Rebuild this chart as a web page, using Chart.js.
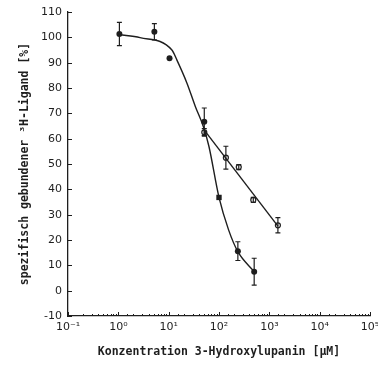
<!DOCTYPE html>
<html>
<head>
<meta charset="utf-8">
<script src="https://cdn.jsdelivr.net/npm/chart.js@4/dist/chart.umd.min.js"></script>
<style>
  html, body { margin: 0; padding: 0; background: #fff; }
  canvas { display: block; }
</style>
</head>
<body>
<canvas id="chart" width="378" height="367"></canvas>
<script>
// measured points, filled circles (concentration in µM, % bound, +/- error)
const filledConc = [1.05, 5.2, 10.4, 51, 237, 500];
const filledVal  = [101.3, 102.2, 91.7, 66.7, 15.6, 7.5];
const filledErr  = [4.6, 3.2, 0, 5.4, 3.7, 5.3];

// single filled square
const squareConc = [100];
const squareVal  = [36.8];

// open symbols
const openConc = [51, 137, 247, 480, 1480];
const openVal  = [62.5, 52.5, 48.8, 35.8, 25.8];
const openErr  = [1.5, 4.5, 1, 1, 3];

// fitted curves
const fitFilledConc = [1.05, 2.7, 11.6, 14.6, 23, 34, 49, 63, 100, 155, 237, 500];
const fitFilledVal  = [101, 99.9, 95, 91, 82, 72.6, 64.7, 57, 36.8, 24, 15.4, 7.5];
const fitOpenConc = [51, 1480];
const fitOpenVal  = [63.4, 25.5];

const yTicks = [-10, 0, 10, 20, 30, 40, 50, 60, 70, 80, 90, 100, 110];
const supers = { '-': '\u207B', '0': '\u2070', '1': '\u00B9', '2': '\u00B2', '3': '\u00B3', '4': '\u2074', '5': '\u2075' };

const ink = '#1e1e1e';

function pairs(xs, ys) {
    return xs.map((v, i) => ({ x: v, y: ys[i] }));
}

function isDecade(v) {
    const l = Math.log10(v);
    return Math.abs(l - Math.round(l)) < 1e-9;
}

// error bars with small caps, drawn through the chart scales
const errorBars = {
    id: 'errorBars',
    afterDatasetsDraw(chart) {
        const { ctx, scales: { x, y } } = chart;
        ctx.save();
        ctx.strokeStyle = ink;
        ctx.lineWidth = 1.2;
        [[filledConc, filledVal, filledErr], [openConc, openVal, openErr]].forEach(([xs, ys, es]) => {
            xs.forEach((c, i) => {
                if (!es[i]) return;
                const px = x.getPixelForValue(c);
                const top = y.getPixelForValue(ys[i] + es[i]);
                const bot = y.getPixelForValue(ys[i] - es[i]);
                ctx.beginPath();
                ctx.moveTo(px, top); ctx.lineTo(px, bot);
                ctx.moveTo(px - 2.5, top); ctx.lineTo(px + 2.5, top);
                ctx.moveTo(px - 2.5, bot); ctx.lineTo(px + 2.5, bot);
                ctx.stroke();
            });
        });
        ctx.restore();
    }
};

// inward tick marks on both axes, short ones for the log minor ticks
const axisTicks = {
    id: 'axisTicks',
    afterDraw(chart) {
        const { ctx, scales: { x, y } } = chart;
        ctx.save();
        ctx.strokeStyle = ink;
        ctx.lineWidth = 1;
        ctx.beginPath();
        x.ticks.forEach(t => {
            const px = Math.round(x.getPixelForValue(t.value)) + 0.5;
            const len = isDecade(t.value) ? 4 : 2;
            ctx.moveTo(px, y.bottom);
            ctx.lineTo(px, y.bottom - len);
        });
        y.ticks.forEach(t => {
            const py = Math.round(y.getPixelForValue(t.value)) + 0.5;
            ctx.moveTo(x.left - 1, py);
            ctx.lineTo(x.left + 4, py);
        });
        ctx.stroke();
        ctx.restore();
    }
};

const config = {
    type: 'scatter',
    data: {
        datasets: [
            {
                data: pairs(fitFilledConc, fitFilledVal),
                showLine: true,
                borderColor: ink,
                borderWidth: 1.4,
                pointRadius: 0,
                cubicInterpolationMode: 'monotone'
            },
            {
                data: pairs(fitOpenConc, fitOpenVal),
                showLine: true,
                borderColor: ink,
                borderWidth: 1.4,
                pointRadius: 0
            },
            {
                data: pairs(filledConc, filledVal),
                pointStyle: 'circle',
                pointRadius: 3,
                backgroundColor: ink,
                borderColor: ink,
                borderWidth: 0
            },
            {
                data: pairs(squareConc, squareVal),
                pointStyle: 'rect',
                pointRadius: 3.8,
                backgroundColor: ink,
                borderColor: ink,
                borderWidth: 0
            },
            {
                data: pairs(openConc, openVal),
                pointStyle: 'circle',
                pointRadius: 2.5,
                backgroundColor: '#fff',
                borderColor: ink,
                borderWidth: 1.2
            }
        ]
    },
    options: {
        responsive: false,
        animation: false,
        events: [],
        layout: { padding: { top: 12, right: 8, left: 0, bottom: 0 } },
        plugins: {
            legend: { display: false },
            tooltip: { enabled: false }
        },
        scales: {
            x: {
                type: 'logarithmic',
                min: 0.1,
                max: 100000,
                grid: { display: false, drawTicks: false },
                border: { display: true, color: ink, width: 1.3 },
                ticks: {
                    autoSkip: false,
                    maxRotation: 0,
                    padding: 5,
                    color: ink,
                    font: { family: 'DejaVu Sans', size: 11 },
                    callback: v => {
                        if (!isDecade(v)) return '';
                        const e = String(Math.round(Math.log10(v)));
                        return '10' + e.split('').map(ch => supers[ch]).join('');
                    }
                },
                title: {
                    display: true,
                    text: 'Konzentration 3-Hydroxylupanin [\u00B5M]',
                    color: ink,
                    font: { family: 'DejaVu Sans Mono', size: 11.5, weight: 'bold' },
                    padding: { top: 0, bottom: 8 }
                },
                afterFit(scale) {
                    scale.height = 51;
                    scale.paddingLeft = 0;
                    scale.paddingRight = 0;
                }
            },
            y: {
                min: -10,
                max: 110,
                afterBuildTicks(scale) {
                    scale.ticks = yTicks.map(v => ({ value: v }));
                },
                grid: { display: false, drawTicks: false },
                border: { display: true, color: ink, width: 1.3 },
                ticks: {
                    padding: 6,
                    color: ink,
                    font: { family: 'DejaVu Sans', size: 11 }
                },
                title: {
                    display: true,
                    text: 'spezifisch gebundener \u00B3H-Ligand [%]',
                    color: ink,
                    font: { family: 'DejaVu Sans Mono', size: 11.5, weight: 'bold' },
                    padding: { top: 18, bottom: 0 }
                },
                afterFit(scale) {
                    scale.width = 68;
                    scale.paddingTop = 0;
                    scale.paddingBottom = 0;
                }
            }
        }
    },
    plugins: [errorBars, axisTicks]
};

const myChart = new Chart(document.getElementById('chart').getContext('2d'), config);
</script>
</body>
</html>
